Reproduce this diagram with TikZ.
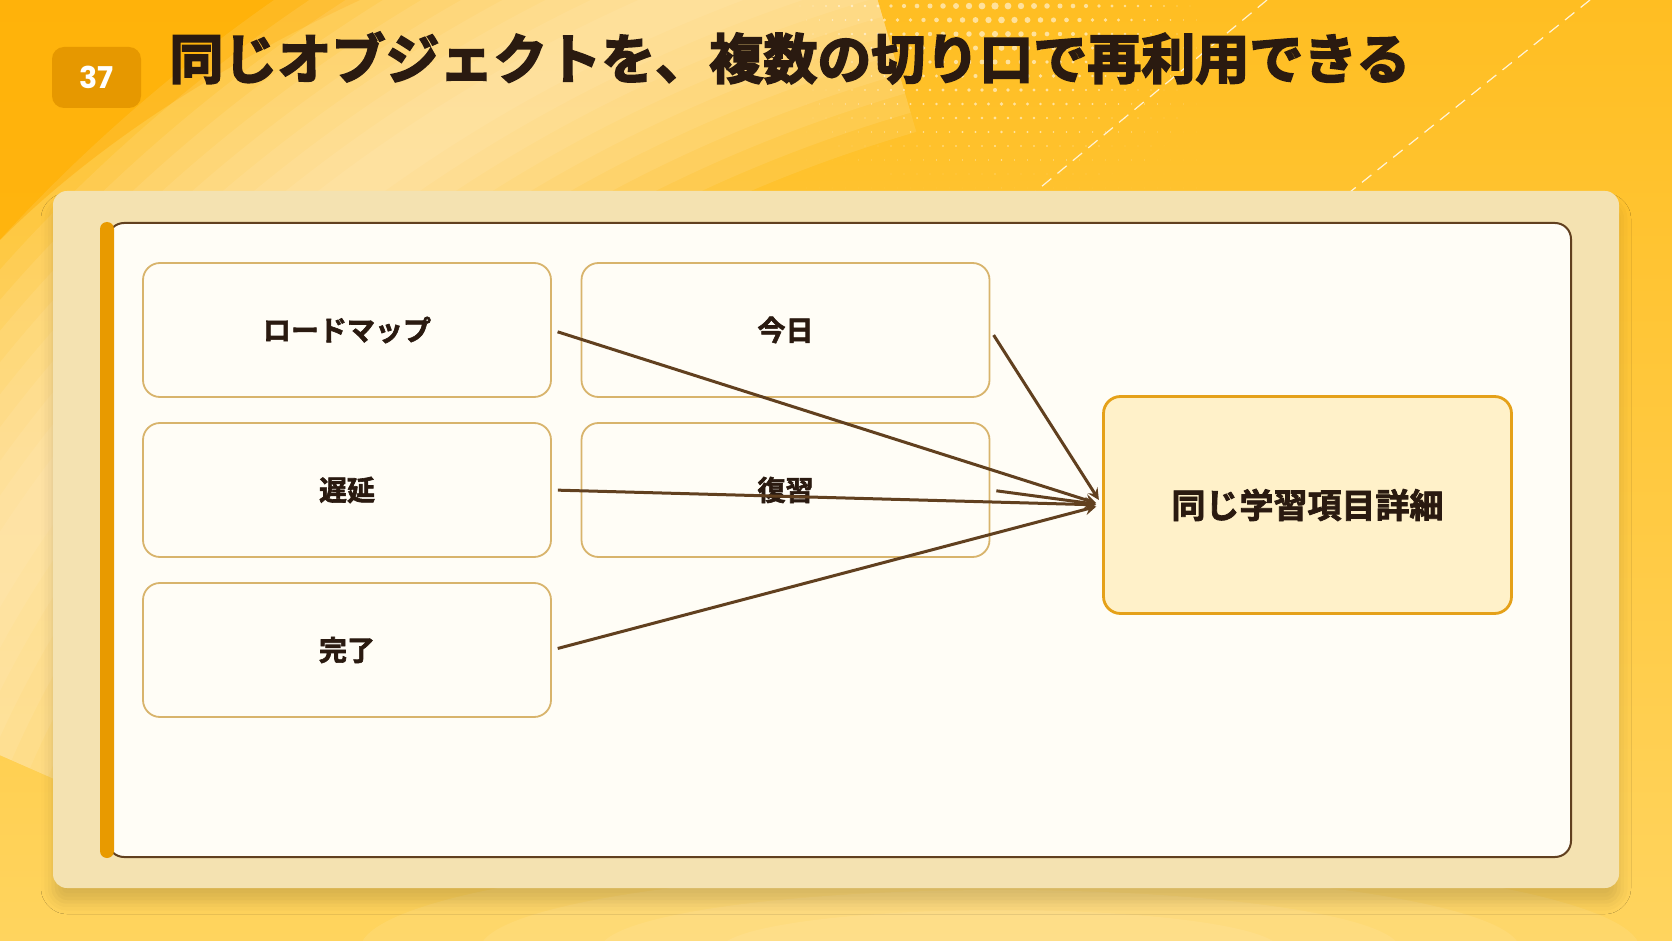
\documentclass[tikz,border=0pt]{standalone}
\usepackage{fontspec}
\setmainfont{Noto Sans CJK JP}
\newfontfamily\titlefont{Noto Sans CJK JP}[UprightFont=* Bold]
\newfontfamily\labelfont{Noto Sans CJK JP}[UprightFont=* Bold]
\newfontfamily\numfont{Poppins}
\newcommand\heavytext[2]{\special{pdf:literal direct 2 Tr #1 w}#2\special{pdf:literal direct 0 Tr}}
\usetikzlibrary{shadows.blur}

\definecolor{bgdeep}{HTML}{FFAE00}
\definecolor{bgtop}{HTML}{FFBE22}
\definecolor{bgbottom}{HTML}{FFD45E}
\definecolor{bgcream}{HTML}{FEF0CC}
\definecolor{badgeorange}{HTML}{E69800}
\definecolor{ink}{HTML}{2A1A10}
\definecolor{linkbrown}{HTML}{61401F}
\definecolor{cardline}{HTML}{D8B46C}
\definecolor{cardfill}{HTML}{FFFDF6}
\definecolor{hubline}{HTML}{E5A119}
\definecolor{hubfill}{HTML}{FFF1C9}
\definecolor{panelfill}{HTML}{F4E2B1}
\definecolor{barorange}{HTML}{E89A00}

\tikzset{
  cardbox/.style={draw=cardline, line width=0.9pt, fill=cardfill, rounded corners=8.5pt,
    minimum width=204pt, minimum height=67pt, text=ink,
    font=\labelfont\fontsize{14}{16}\selectfont},
  hubbox/.style={draw=hubline, line width=1.4pt, fill=hubfill, rounded corners=8.5pt,
    minimum width=204pt, minimum height=108.5pt, text=ink,
    font=\labelfont\fontsize{17}{20}\selectfont},
  linkarrow/.style={draw=linkbrown, line width=1.5pt, -stealth, shorten <=3pt, shorten >=3pt}
}

\begin{document}
\begin{tikzpicture}[x=0.5pt,y=-0.5pt]
  \useasboundingbox (0,0) rectangle (1672,941);
  % background
  \shade[top color=bgtop, bottom color=bgbottom] (0,0) rectangle (1672,941);
  \begin{scope}
    \clip (0,0) rectangle (1672,941);
    \fill[bgdeep, opacity=0.7] (0,0) -- (360,0) .. controls (210,70) and (90,150) .. (0,240) -- cycle;
    \foreach \w in {200,180,...,20}
      \draw[bgcream, line width=\w pt, opacity=0.12]
        (-80,720) .. controls (60,400) and (380,80) .. (860,-60);
    \foreach \rx/\ry in {320/50,260/40,200/30,140/20}
      \fill[bgcream, opacity=0.12] (1000,950) ellipse[x radius=\rx pt, y radius=\ry pt];
    \foreach \i in {0,...,30}{
      \foreach \j in {0,...,13}{
        \pgfmathsetmacro\dr{max(0.01,1.8*(1-\j/14)*(1-abs(\i-15)/17))}
        \fill[white, opacity=0.55] ({800+13*\i+6.5*mod(\j,2)},{6+14*\j}) circle[radius=\dr pt];
      }
    }
    \draw[white, opacity=0.8, line width=0.6pt, dash pattern=on 6pt off 4pt] (1267,0) -- (1035,192);
    \draw[white, opacity=0.8, line width=0.6pt, dash pattern=on 6pt off 4pt] (1590,0) -- (1350,192);
  \end{scope}

  % title
  \node[fill=badgeorange, rounded corners=6pt, minimum width=44.5pt, minimum height=30.5pt,
    text=white, font=\numfont\bfseries\fontsize{15}{15}\selectfont] (num) at (96.5,77.5) {37};
  \node[anchor=west, inner sep=0pt, text=ink, font=\titlefont\fontsize{27}{30}\selectfont]
    (title) at (169,58) {\heavytext{0.9}{同じオブジェクトを、複数の切り口で再利用できる}};

  % panels
  \fill[panelfill, rounded corners=7pt,
    blur shadow={shadow xshift=0pt, shadow yshift=-7pt, shadow blur radius=6pt, shadow opacity=15}]
    (53,191) rectangle (1619,888);
  \draw[linkbrown, line width=1pt, fill=cardfill, rounded corners=8pt] (108,223) rectangle (1571,857);
  \fill[barorange, rounded corners=3.5pt] (100,222) rectangle (114,858);

  % boxes
  \node[cardbox] (roadmap) at (347,330) {\heavytext{0.3}{ロードマップ}};
  \node[cardbox] (delay) at (347,490) {\heavytext{0.3}{遅延}};
  \node[cardbox] (done) at (347,650) {\heavytext{0.3}{完了}};
  \node[cardbox] (today) at (785.5,330) {\heavytext{0.3}{今日}};
  \node[cardbox] (review) at (785.5,490) {\heavytext{0.3}{復習}};
  \node[hubbox] (detail) at (1307.5,505) {\heavytext{0.4}{同じ学習項目詳細}};

  % arrows
  \foreach \src in {roadmap,delay,done,today,review}
    \draw[linkarrow] (\src.east) -- (detail.west);
\end{tikzpicture}
\end{document}
